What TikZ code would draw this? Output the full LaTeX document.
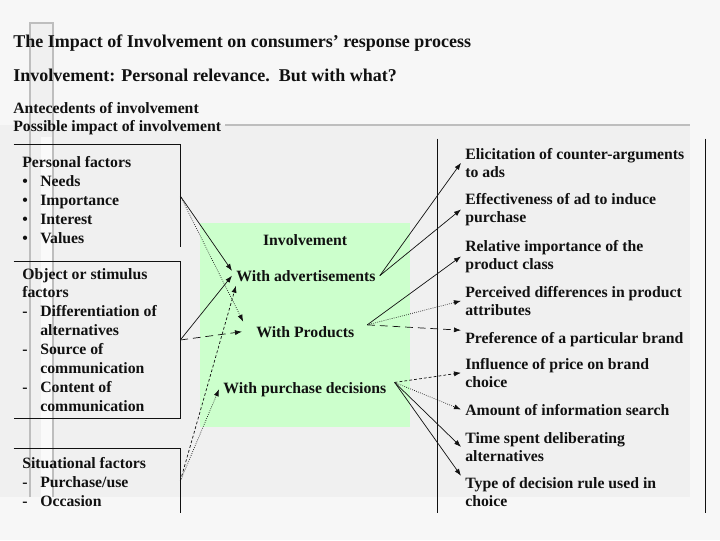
\documentclass[tikz,border=0pt]{standalone}
\usepackage{fontspec}
\setmainfont{Liberation Serif}
\usepackage{tikz}
\usetikzlibrary{arrows.meta}
\definecolor{pagebg}{HTML}{F7F7F7}
\definecolor{panelbg}{HTML}{F0F0F0}
\definecolor{decoline}{HTML}{BEBEBE}
\definecolor{decostrip}{HTML}{FAFAFA}
\definecolor{involvebg}{HTML}{CCFFCC}
\definecolor{inktext}{HTML}{111111}
\tikzset{
  heading/.style={anchor=base west, inner sep=0pt,
               font=\fontsize{12.8}{15}\selectfont\bfseries, text=inktext},
  subhead/.style={anchor=base west, inner sep=0pt,
               font=\fontsize{11.2}{13}\selectfont\bfseries, text=inktext},
  factorbox/.style={minimum width=4.15cm, inner sep=0pt},
  factortext/.style={anchor=base west, inner sep=0pt, align=left,
               font=\fontsize{11.2}{13.4}\selectfont\bfseries, text=inktext},
  involvebox/.style={fill=involvebg, minimum width=5.25cm, minimum height=5.1cm,
               inner sep=0pt},
  withnode/.style={anchor=base west, inner xsep=0.1cm, inner ysep=1pt,
               font=\fontsize{11.2}{13}\selectfont\bfseries, text=inktext},
  impact/.style={anchor=base west, inner xsep=0.1cm, inner ysep=1pt, align=left,
               font=\fontsize{11.2}{12.4}\selectfont\bfseries, text=inktext},
  edge/.style={line width=0.5pt, inktext},
  link/.style={-{Latex[length=5pt,width=3.6pt]}, line width=0.5pt, inktext},
  linkdot/.style={link, densely dotted},
  linkdash/.style={link, dash pattern=on 5.5pt off 3.5pt},
  linkfine/.style={link, dash pattern=on 2pt off 1.5pt},
}
\newcommand{\bitem}[1]{\makebox[0.45cm][l]{\textbullet}#1}
\newcommand{\ditem}[1]{\makebox[0.45cm][l]{-}#1}
\newcommand{\contline}[1]{\hspace*{0.45cm}#1}

\begin{document}
\begin{tikzpicture}[x=0.025cm, y=-0.025cm]

  \useasboundingbox (0,0) rectangle (720,540);
  \fill[pagebg] (0,0) rectangle (720,540);
  \fill[panelbg] (0,125) rectangle (690,497);
  \filldraw[fill=panelbg, draw=decoline, line width=1.4pt] (30,497) -- (30,23) -- (53,23) -- (53,497);
  \fill[decostrip] (41,137) rectangle (52,497);
  \draw[decoline, line width=1.4pt] (225,125) -- (690,125);

  % titles
  \node[heading] (title) at (13,47) {The Impact of Involvement on consumers’ response process};
  \node[heading] (question) at (13,81) {Involvement: Personal relevance.\ \ But with what?};
  \node[subhead] (antecedents) at (13,113) {Antecedents of involvement};
  \node[subhead] (possible) at (13,131) {Possible impact of involvement};

  % antecedent boxes (text nodes sit on their last line)
  \node[factorbox, minimum height=2.55cm] (pf) at (97,196) {};
  \node[factorbox, minimum height=3.9cm] (os) at (97,340) {};
  \node[factorbox, minimum height=1.6cm] (sf) at (97,481) {};
  \draw[edge] (pf.north west) -- (pf.north east) -- (pf.south east);
  \draw[edge] (os.north west) -- (os.north east) -- (os.south east) -- (os.south west);
  \draw[edge] (sf.north west) -- (sf.north east) -- (sf.south east);

  \node[factortext] (pftext) at (22,243) {Personal factors\\ \bitem{Needs}\\ \bitem{Importance}\\ \bitem{Interest}\\ \bitem{Values}};
  \node[factortext] (ostext) at (22,411) {Object or stimulus\\ factors\\ \ditem{Differentiation of}\\ \contline{alternatives}\\ \ditem{Source of}\\ \contline{communication}\\ \ditem{Content of}\\ \contline{communication}};
  \node[factortext] (sftext) at (22,506) {Situational factors\\ \ditem{Purchase/use}\\ \ditem{Occasion}};

  % involvement
  \node[involvebox] (inv) at (305,325) {};
  \node[withnode, anchor=base] (invtitle) at (305,245) {Involvement};
  \node[withnode] (wa) at (232,281) {With advertisements};
  \node[withnode] (wp) at (252,337) {With Products};
  \node[withnode] (wd) at (219,393) {With purchase decisions};

  % impacts
  \node[minimum width=6.675cm, minimum height=9.35cm, inner sep=0pt] (rc) at (571.5,326) {};
  \draw[edge] (rc.north west) -- (rc.south west);
  \draw[edge] (rc.north east) -- (rc.south east);

  \node[impact] (r1) at (461,177) {Elicitation of counter-arguments\\ to ads};
  \node[impact] (r2) at (461,222) {Effectiveness of ad to induce\\ purchase};
  \node[impact] (r3) at (461,269) {Relative importance of the\\ product class};
  \node[impact] (r4) at (461,315) {Perceived differences in product\\ attributes};
  \node[impact] (r5) at (461,343) {Preference of a particular brand};
  \node[impact] (r6) at (461,387) {Influence of price on brand\\ choice};
  \node[impact] (r7) at (461,415) {Amount of information search};
  \node[impact] (r8) at (461,461) {Time spent deliberating\\ alternatives};
  \node[impact] (r9) at (461,506) {Type of decision rule used in\\ choice};

  % antecedents -> involvement
  \draw[link] (pf.east) -- ([yshift=0.12cm]wa.west);
  \draw[linkdot] (pf.east) -- ([xshift=-0.22cm,yshift=0.25cm]wp.west);
  \draw[link] (os.east) -- (wa.west);
  \draw[linkdash] (os.east) -- ([xshift=-0.25cm]wp.west);
  \draw[linkfine] (sf.east) -- ([xshift=0.1cm,yshift=-0.25cm]wa.west);
  \draw[linkdot] (sf.east) -- (wd.west);

  % involvement -> impacts
  \draw[link] (wa.east) -- (r1.west);
  \draw[link] (wa.east) -- (r2.west);
  \draw[link] ([xshift=0.22cm,yshift=0.17cm]wp.east) -- (r3.west);
  \draw[linkdot] ([xshift=0.22cm,yshift=0.17cm]wp.east) -- (r4.west);
  \draw[linkdash] ([xshift=0.22cm,yshift=0.17cm]wp.east) -- (r5.north west);
  \draw[linkfine] ([xshift=0.1cm,yshift=0.17cm]wd.east) -- (r6.west);
  \draw[linkdot] ([xshift=0.1cm,yshift=0.17cm]wd.east) -- (r7.west);
  \draw[link] ([xshift=0.1cm,yshift=0.17cm]wd.east) -- (r8.west);
  \draw[link] ([xshift=0.1cm,yshift=0.17cm]wd.east) -- (r9.north west);

\end{tikzpicture}
\end{document}
